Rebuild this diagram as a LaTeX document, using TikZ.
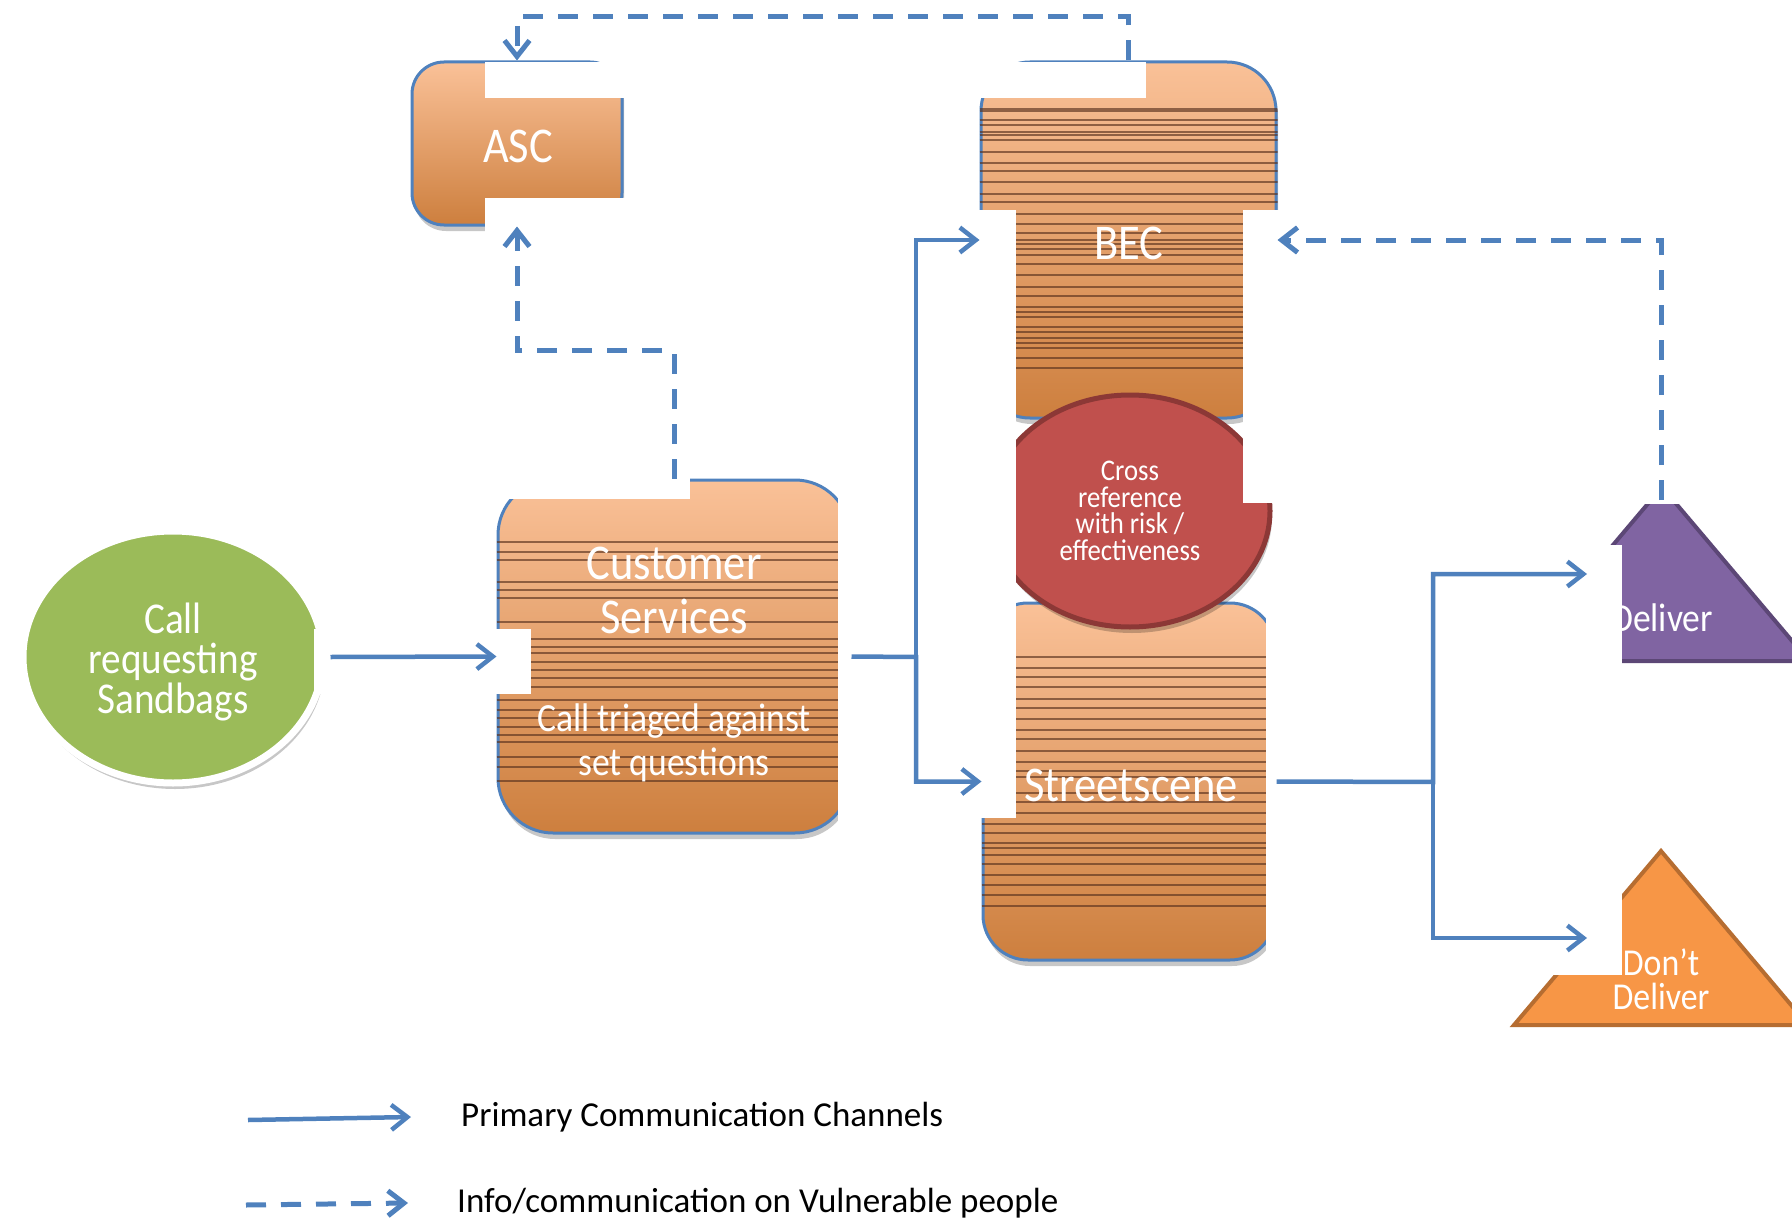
\documentclass[tikz,border=0pt]{standalone}
\usepackage{fontspec}
\setmainfont{Carlito}
\newfontfamily\shapefont{Carlito}[FakeStretch=0.89]
\usetikzlibrary{arrows.meta,shapes.geometric,shadows}

\definecolor{lineblue}{RGB}{79,129,189}
\definecolor{boxtop}{RGB}{250,193,152}
\definecolor{boxbot}{RGB}{205,127,62}
\definecolor{leafgreen}{RGB}{155,187,89}
\definecolor{crossred}{RGB}{192,80,77}
\definecolor{crossedge}{RGB}{140,56,54}
\definecolor{plum}{RGB}{128,100,162}
\definecolor{plumedge}{RGB}{92,71,118}
\definecolor{tangerine}{RGB}{247,150,70}
\definecolor{tangedge}{RGB}{182,109,49}
\definecolor{stripe}{RGB}{90,50,30}

\begin{document}
\lineskiplimit=-100pt
\begin{tikzpicture}[x=1pt,y=-1pt,
  softshadow/.style={drop shadow={shadow xshift=2pt,shadow yshift=-6pt,opacity=0.22,fill=black}},
  panel/.style={rectangle, draw=lineblue, line width=3pt, top color=boxtop, bottom color=boxbot, inner sep=0pt, softshadow},
  paneltext/.style={text=white, align=center, inner sep=0pt, font=\shapefont\fontsize{50}{54}\selectfont},
  stripeline/.style={draw=stripe, line width=1.3pt, opacity=0.65},
  patch/.style={fill=white},
  conn/.style={draw=lineblue, line width=4.5pt, -{Straight Barb[length=16pt,width=25pt]}},
  dashconn/.style={conn, line width=5pt, dash pattern=on 20pt off 15pt},
  legendtext/.style={text=black, inner sep=0pt, anchor=base west, font=\fontsize{35}{40}\selectfont}
]
\useasboundingbox (0,0) rectangle (1792,1220);
\clip (0,0) rectangle (1792,1220);

% incoming call
\node[ellipse, minimum width=300pt, minimum height=252pt, fill=leafgreen, draw=white,
      line width=7pt, softshadow] (call) at (173,657) {};
\node[paneltext, font=\shapefont\fontsize{44}{40}\selectfont] (callText) at (173,662)
      {Call\\requesting\\Sandbags};

% ASC
\node[panel, minimum width=210pt, minimum height=163pt, rounded corners=32pt] (asc) at (517,143.5) {};
\node[paneltext] (ascText) at (518,146) {ASC};

% BEC and Streetscene column
\node[panel, minimum width=295pt, minimum height=356pt, rounded corners=49pt] (bec) at (1128.5,240) {};
\begin{scope}
  \clip[rounded corners=49pt] (bec.north west) rectangle (bec.south east);
  \foreach \s in {109,111,120,125,132,135,140,152,163,171,182,194,202,214,224,233,240,244,249,255,264,275,287,296,307,312,317,327,332,338,343,348,358,368}
    \draw[stripeline] (bec.west |- 0,\s) -- (bec.east |- 0,\s);
\end{scope}
\node[paneltext] (becText) at (1129,243) {BEC};

\node[panel, minimum width=292pt, minimum height=357pt, rounded corners=45pt] (street) at (1129,781.5) {};
\begin{scope}
  \clip[rounded corners=45pt] (street.north west) rectangle (street.south east);
  \foreach \s in {657,668,677,687,699,708,719,730,739,751,762,771,777,793,802,813,824,833,843,848,855,864,875,885,895,906}
    \draw[stripeline] (street.west |- 0,\s) -- (street.east |- 0,\s);
\end{scope}
\node[paneltext] (streetText) at (1131,785) {Streetscene};

\node[ellipse, minimum width=280pt, minimum height=232pt, fill=crossred, draw=crossedge,
      line width=5pt, softshadow] (cross) at (1130,511) {};
\node[paneltext, font=\shapefont\fontsize{30}{26.5}\selectfont] (crossText) at (1130,511)
      {Cross\\reference\\with risk /\\effectiveness};

% Customer Services
\node[panel, minimum width=352pt, minimum height=353pt, rounded corners=55pt] (cs) at (674,656.5) {};
\begin{scope}
  \clip[rounded corners=55pt] (cs.north west) rectangle (cs.south east);
  \foreach \s in {542,552,560,582,590,598,622,639,647,653,662,670,678,687,700,710,718,727,735,742,757,767,781}
    \draw[stripeline] (cs.west |- 0,\s) -- (cs.east |- 0,\s);
\end{scope}
\node[paneltext] (csTitle) at (674,590) {Customer\\Services};
\node[paneltext, font=\shapefont\fontsize{40}{44}\selectfont] (csSub) at (674,743)
      {Call triaged against\\set questions};

% outcomes
\filldraw[fill=plum, draw=plumedge, line width=4pt] (1662,487) -- (1809,661) -- (1515,661) -- cycle;
\node[paneltext, font=\shapefont\fontsize{40}{32}\selectfont] (dlvText) at (1662,618) {Deliver};
\filldraw[fill=tangerine, draw=tangedge, line width=4pt] (1661,851) -- (1808,1025) -- (1514,1025) -- cycle;
\node[paneltext, font=\shapefont\fontsize{38}{34}\selectfont] (dontText) at (1661,979) {Don’t\\Deliver};

% blank cut-outs over the shapes
\fill[patch] (485,62) rectangle (1146,98);
\fill[patch] (485,198) rectangle (640,234);
\fill[patch] (314,629) rectangle (531,694);
\fill[patch] (488,476) rectangle (690,499);
\fill[patch] (838,470) rectangle (864,850);
\fill[patch] (958,210) rectangle (1016,818);
\fill[patch] (1243,210) rectangle (1292,503);
\fill[patch] (1266,600) rectangle (1292,968);
\fill[patch] (1500,545) rectangle (1622,672);
\fill[patch] (1630,470) rectangle (1695,504);
\fill[patch] (1500,840) rectangle (1622,975);

% primary channels
\coordinate (fork) at (916,657);
\coordinate (split) at (1433,782);
\coordinate (dlvIn) at (1587,574);
\coordinate (dontIn) at (1587,938);
\draw[conn] (call.east) ++(4,0) -- (cs.west);
\draw[conn] (cs.east) -- (fork) |- (street.west);
\draw[conn] (fork) |- (bec.west);
\draw[conn] (street.east) -- (split) |- (dlvIn);
\draw[conn] (split) |- (dontIn);

% vulnerable people information
\coordinate (dlvTop) at (1661,500);
\draw[dashconn] (dlvTop) |- (bec.east);
\draw[dashconn] (bec.north) -- ++(0,-44) -| (asc.north);
\draw[dashconn] (cs.north) -- ++(0,-128) -| (asc.south);

% key
\coordinate (keySolidA) at (248,1120);
\coordinate (keySolidB) at (411,1117);
\coordinate (keyDashA) at (246,1205);
\coordinate (keyDashB) at (408,1203);
\draw[conn] (keySolidA) -- (keySolidB);
\draw[dashconn] (keyDashA) -- (keyDashB);
\node[legendtext] (keySolidText) at (461,1126) {Primary Communication Channels};
\node[legendtext] (keyDashText) at (457,1212) {Info/communication on Vulnerable people};
\end{tikzpicture}
\end{document}
